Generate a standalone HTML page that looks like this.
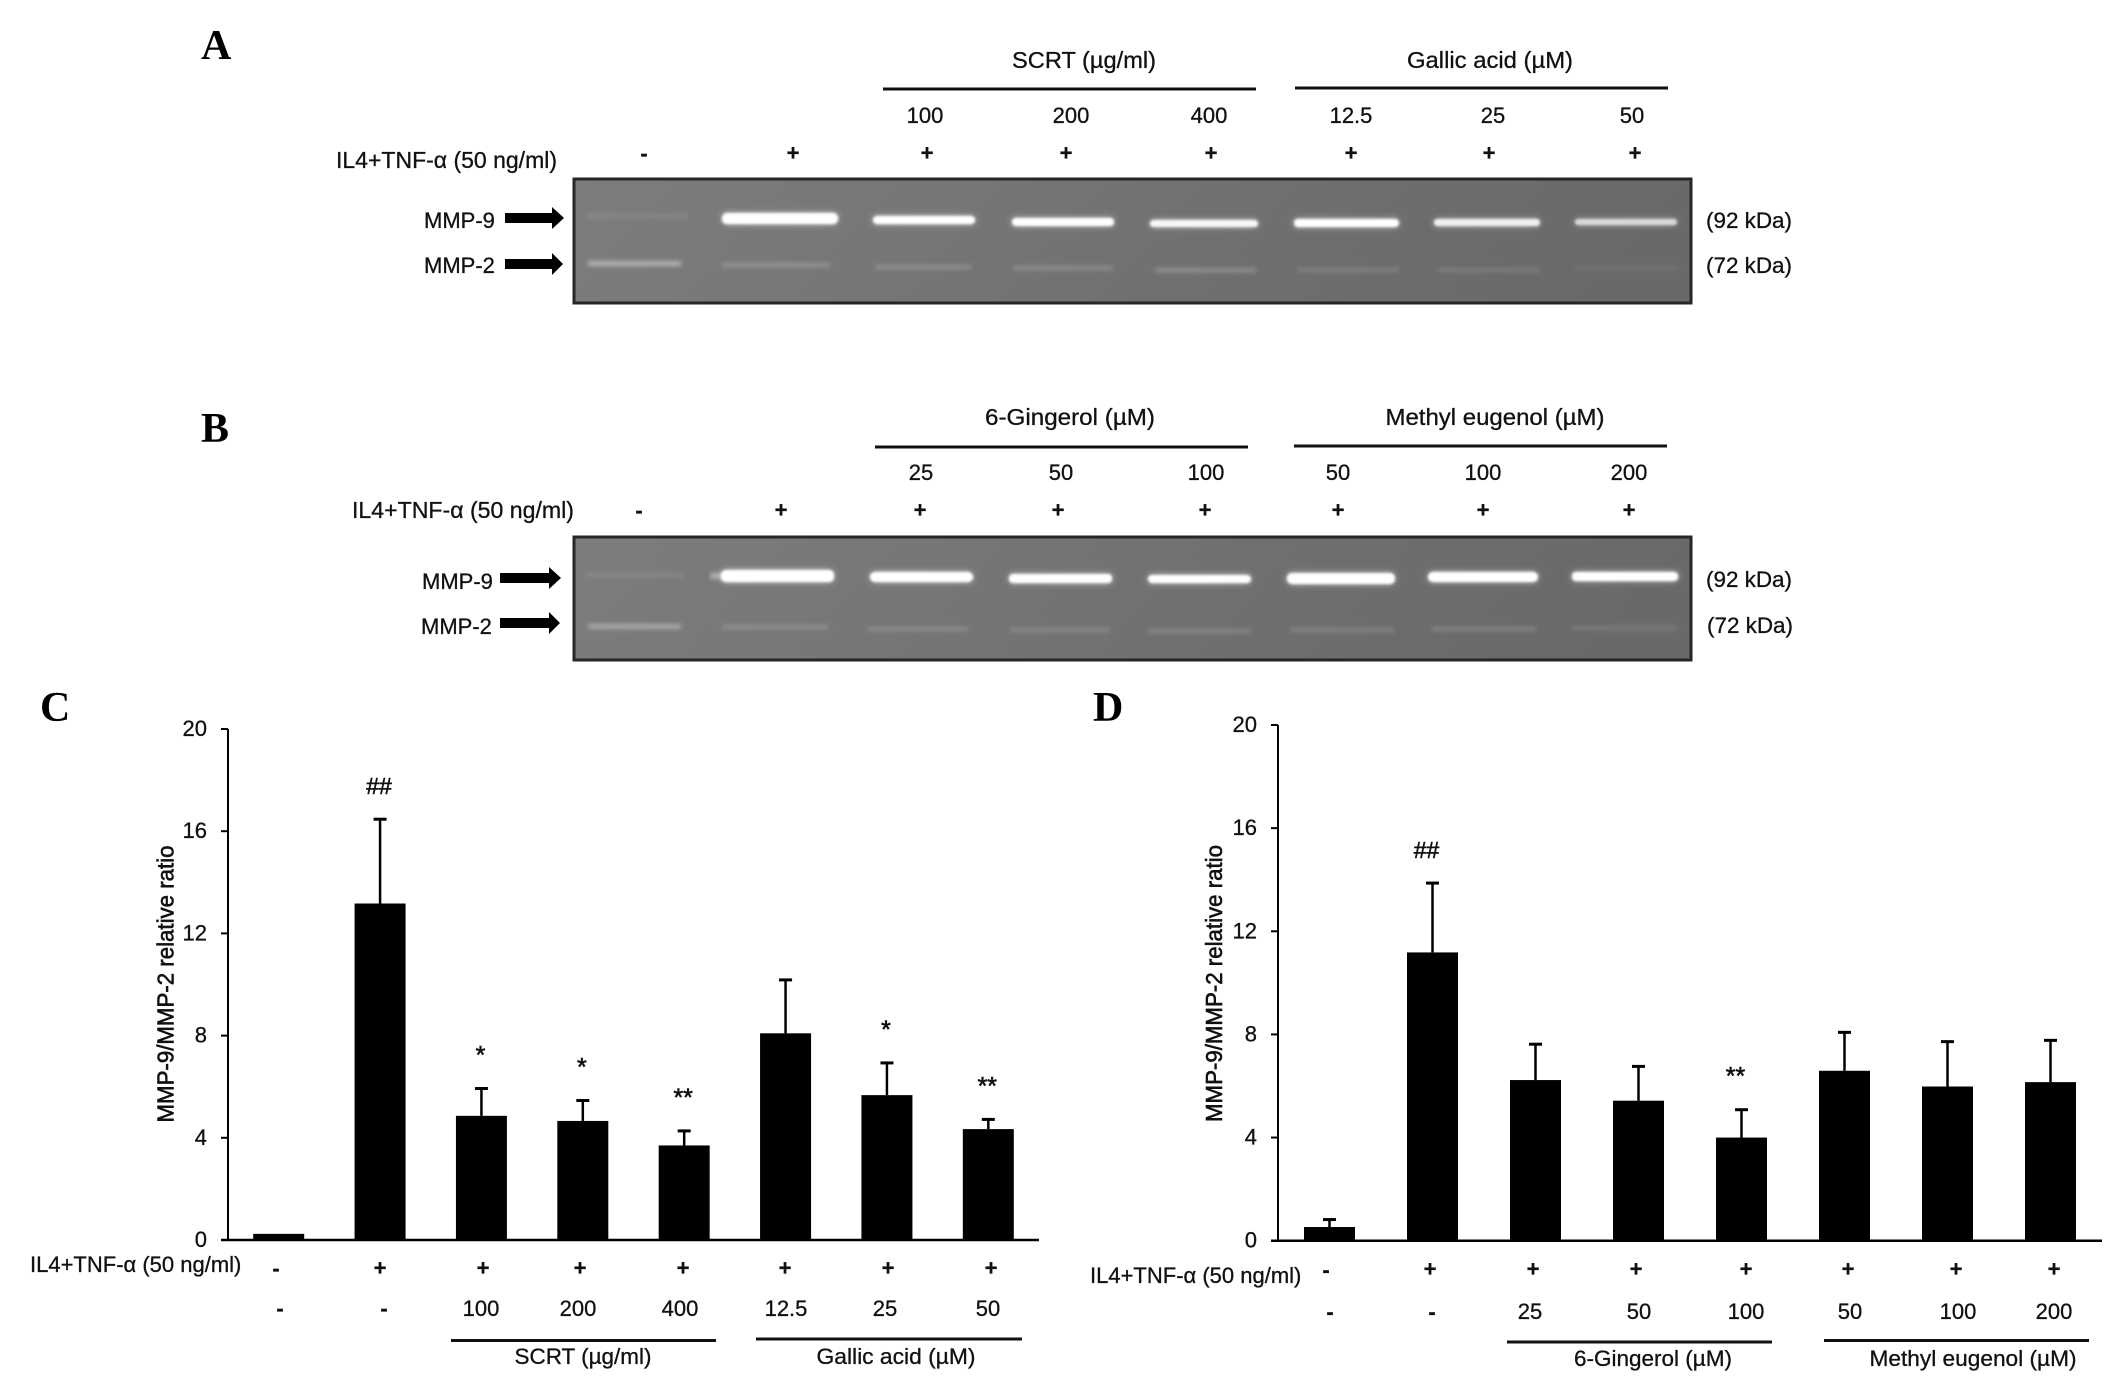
<!DOCTYPE html>
<html lang="en">
<head>
<meta charset="utf-8">
<title>MMP-9/MMP-2 zymography and ratio charts</title>
<style>
html,body{margin:0;padding:0;background:#fff;}
svg{display:block;}
text{font-family:"Liberation Sans",sans-serif;font-size:22px;fill:#111;stroke:#111;stroke-width:0.3;}
.m{text-anchor:middle;}
.b{font-weight:bold;}
.letter{font-family:"Liberation Serif",serif;font-weight:bold;font-size:42px;fill:#000;stroke:none;}
.gel-border{fill:none;stroke:#262626;stroke-width:3;}
.rule{stroke:#111;stroke-width:3;}
.arrow{fill:#000;}
</style>
</head>
<body>
<svg id="figure" xmlns="http://www.w3.org/2000/svg" width="2126" height="1382" viewBox="0 0 2126 1382">
<defs>
<linearGradient id="gelFill" x1="0" y1="0" x2="1" y2="0.1">
<stop offset="0" stop-color="#7d7d7d"/><stop offset="0.35" stop-color="#767676"/><stop offset="0.7" stop-color="#6e6e6e"/><stop offset="1" stop-color="#696969"/>
</linearGradient>
<filter id="bandGlow" x="-10%" y="-150%" width="120%" height="400%">
<feGaussianBlur in="SourceGraphic" stdDeviation="3.5" result="wide"/>
<feComponentTransfer in="wide" result="dim"><feFuncA type="linear" slope="0.6"/></feComponentTransfer>
<feGaussianBlur in="SourceGraphic" stdDeviation="1.3" result="tight"/>
<feMerge><feMergeNode in="dim"/><feMergeNode in="tight"/></feMerge>
</filter>
<filter id="bandSoft" x="-10%" y="-200%" width="120%" height="500%">
<feGaussianBlur stdDeviation="2.2"/>
</filter>
</defs>

<!-- Panel A -->
<g>
<text class="letter" x="201" y="59">A</text>
<text class="m" x="1084" y="68" textLength="144" lengthAdjust="spacingAndGlyphs" style="font-size:23px">SCRT (µg/ml)</text>
<text class="m" x="1490" y="68" textLength="166" lengthAdjust="spacingAndGlyphs" style="font-size:23px">Gallic acid (µM)</text>
<line class="rule" x1="883" y1="89" x2="1256" y2="89"/>
<line class="rule" x1="1295" y1="88" x2="1668" y2="88"/>
<g>
<text class="m" x="925" y="123">100</text>
<text class="m" x="1071" y="123">200</text>
<text class="m" x="1209" y="123">400</text>
<text class="m" x="1351" y="123">12.5</text>
<text class="m" x="1493" y="123">25</text>
<text class="m" x="1632" y="123">50</text>
</g>
<text x="336" y="168" textLength="221" lengthAdjust="spacingAndGlyphs" style="font-size:23px">IL4+TNF-α (50 ng/ml)</text>
<g>
<text class="m b" x="644" y="161">-</text>
<text class="m b" x="793" y="160.5">+</text>
<text class="m b" x="927" y="160.5">+</text>
<text class="m b" x="1066" y="160.5">+</text>
<text class="m b" x="1211" y="160.5">+</text>
<text class="m b" x="1351" y="160.5">+</text>
<text class="m b" x="1489" y="160.5">+</text>
<text class="m b" x="1635" y="160.5">+</text>
</g>
<rect x="574" y="179" width="1117" height="124" fill="url(#gelFill)"/>
<g fill="#fff">
<rect x="586" y="214" width="102" height="4" opacity="0.1" filter="url(#bandSoft)"/>
<rect x="722" y="213" width="116" height="11" rx="5" filter="url(#bandGlow)"/>
<rect x="873" y="216" width="102" height="8" rx="4" filter="url(#bandGlow)"/>
<rect x="1012" y="218" width="102" height="8" rx="4" filter="url(#bandGlow)"/>
<rect x="1150" y="220" width="108" height="7" rx="3.5" opacity="0.95" filter="url(#bandGlow)"/>
<rect x="1294" y="219" width="105" height="8" rx="4" filter="url(#bandGlow)"/>
<rect x="1434" y="219" width="106" height="7" rx="3.5" opacity="0.9" filter="url(#bandGlow)"/>
<rect x="1575" y="219" width="102" height="6" rx="3" opacity="0.75" filter="url(#bandGlow)"/>
</g>
<g fill="#fff" filter="url(#bandSoft)">
<rect x="588" y="261" width="93" height="5" opacity="0.42"/>
<rect x="722" y="263" width="108" height="4" opacity="0.22"/>
<rect x="875" y="265" width="96" height="4" opacity="0.2"/>
<rect x="1013" y="266" width="100" height="4" opacity="0.2"/>
<rect x="1155" y="268" width="101" height="4" opacity="0.24"/>
<rect x="1297" y="268" width="102" height="4" opacity="0.14"/>
<rect x="1438" y="268" width="102" height="4" opacity="0.13"/>
<rect x="1575" y="266" width="102" height="4" opacity="0.08"/>
</g>
<rect class="gel-border" x="574" y="179" width="1117" height="124"/>
<text x="424" y="228">MMP-9</text>
<text x="424" y="273">MMP-2</text>
<polygon class="arrow" points="505,213 552,213 552,207 564,218 552,229 552,223 505,223"/>
<polygon class="arrow" points="505,259 552,259 552,253 563,264 552,275 552,269 505,269"/>
<text x="1706" y="228" textLength="86" lengthAdjust="spacingAndGlyphs">(92 kDa)</text>
<text x="1706" y="273" textLength="86" lengthAdjust="spacingAndGlyphs">(72 kDa)</text>
</g>

<!-- Panel B -->
<g>
<text class="letter" x="201" y="442">B</text>
<text class="m" x="1070" y="425" textLength="170" lengthAdjust="spacingAndGlyphs" style="font-size:23px">6-Gingerol (µM)</text>
<text class="m" x="1495" y="425" textLength="219" lengthAdjust="spacingAndGlyphs" style="font-size:23px">Methyl eugenol (µM)</text>
<line class="rule" x1="875" y1="447" x2="1248" y2="447"/>
<line class="rule" x1="1294" y1="446" x2="1667" y2="446"/>
<g>
<text class="m" x="921" y="480">25</text>
<text class="m" x="1061" y="480">50</text>
<text class="m" x="1206" y="480">100</text>
<text class="m" x="1338" y="480">50</text>
<text class="m" x="1483" y="480">100</text>
<text class="m" x="1629" y="480">200</text>
</g>
<text x="352" y="518" textLength="222" lengthAdjust="spacingAndGlyphs" style="font-size:23px">IL4+TNF-α (50 ng/ml)</text>
<g>
<text class="m b" x="639" y="518">-</text>
<text class="m b" x="781" y="517.5">+</text>
<text class="m b" x="920" y="517.5">+</text>
<text class="m b" x="1058" y="517.5">+</text>
<text class="m b" x="1205" y="517.5">+</text>
<text class="m b" x="1338" y="517.5">+</text>
<text class="m b" x="1483" y="517.5">+</text>
<text class="m b" x="1629" y="517.5">+</text>
</g>
<rect x="574" y="537" width="1117" height="123" fill="url(#gelFill)"/>
<g fill="#fff">
<rect x="586" y="573" width="99" height="4" opacity="0.1" filter="url(#bandSoft)"/>
<rect x="710" y="573" width="14" height="6" opacity="0.4" filter="url(#bandSoft)"/>
<rect x="721" y="570" width="113" height="12" rx="5" filter="url(#bandGlow)"/>
<rect x="870" y="572" width="103" height="10" rx="5" filter="url(#bandGlow)"/>
<rect x="1009" y="574" width="103" height="9" rx="4" filter="url(#bandGlow)"/>
<rect x="1148" y="575" width="103" height="8" rx="4" filter="url(#bandGlow)"/>
<rect x="1287" y="573" width="108" height="11" rx="5" filter="url(#bandGlow)"/>
<rect x="1428" y="572" width="110" height="10" rx="5" filter="url(#bandGlow)"/>
<rect x="1572" y="572" width="106" height="9" rx="4" filter="url(#bandGlow)"/>
</g>
<g fill="#fff" filter="url(#bandSoft)">
<rect x="588" y="624" width="93" height="5" opacity="0.34"/>
<rect x="722" y="625" width="106" height="4" opacity="0.18"/>
<rect x="868" y="627" width="100" height="4" opacity="0.17"/>
<rect x="1010" y="628" width="100" height="4" opacity="0.17"/>
<rect x="1148" y="629" width="103" height="4" opacity="0.17"/>
<rect x="1290" y="628" width="104" height="4" opacity="0.17"/>
<rect x="1432" y="627" width="104" height="4" opacity="0.17"/>
<rect x="1571" y="626" width="106" height="4" opacity="0.12"/>
</g>
<rect class="gel-border" x="574" y="537" width="1117" height="123"/>
<text x="422" y="589">MMP-9</text>
<text x="421" y="634">MMP-2</text>
<polygon class="arrow" points="500,573 549,573 549,567 561,578 549,589 549,583 500,583"/>
<polygon class="arrow" points="500,618 549,618 549,612 560,623 549,634 549,628 500,628"/>
<text x="1706" y="587" textLength="86" lengthAdjust="spacingAndGlyphs">(92 kDa)</text>
<text x="1707" y="633" textLength="86" lengthAdjust="spacingAndGlyphs">(72 kDa)</text>
</g>

<!-- Panel C static rows -->
<g id="panelC">
<text class="letter" x="40" y="721">C</text>
<text x="30" y="1272">IL4+TNF-α (50 ng/ml)</text>
<g>
<text class="m b" x="276" y="1276">-</text>
<text class="m b" x="380" y="1275.5">+</text>
<text class="m b" x="483" y="1275.5">+</text>
<text class="m b" x="580" y="1275.5">+</text>
<text class="m b" x="683" y="1275.5">+</text>
<text class="m b" x="785" y="1275.5">+</text>
<text class="m b" x="888" y="1275.5">+</text>
<text class="m b" x="991" y="1275.5">+</text>
</g>
<g>
<text class="m b" x="280" y="1316">-</text>
<text class="m b" x="384" y="1316">-</text>
<text class="m" x="481" y="1316">100</text>
<text class="m" x="578" y="1316">200</text>
<text class="m" x="680" y="1316">400</text>
<text class="m" x="786" y="1316">12.5</text>
<text class="m" x="885" y="1316">25</text>
<text class="m" x="988" y="1316">50</text>
</g>
<line class="rule" x1="451" y1="1340.5" x2="716" y2="1340.5"/>
<line class="rule" x1="756" y1="1339" x2="1022" y2="1339"/>
<text class="m" x="583" y="1364" textLength="137" lengthAdjust="spacingAndGlyphs">SCRT (µg/ml)</text>
<text class="m" x="896" y="1364" textLength="159" lengthAdjust="spacingAndGlyphs">Gallic acid (µM)</text>
</g>

<!-- Panel D static rows -->
<g id="panelD">
<text class="letter" x="1093" y="721">D</text>
<text x="1090" y="1283">IL4+TNF-α (50 ng/ml)</text>
<g>
<text class="m b" x="1326" y="1277.5">-</text>
<text class="m b" x="1430" y="1276.5">+</text>
<text class="m b" x="1533" y="1276.5">+</text>
<text class="m b" x="1636" y="1276.5">+</text>
<text class="m b" x="1746" y="1276.5">+</text>
<text class="m b" x="1848" y="1276.5">+</text>
<text class="m b" x="1956" y="1276.5">+</text>
<text class="m b" x="2054" y="1276.5">+</text>
</g>
<g>
<text class="m b" x="1330" y="1319.5">-</text>
<text class="m b" x="1432" y="1319.5">-</text>
<text class="m" x="1530" y="1319">25</text>
<text class="m" x="1639" y="1319">50</text>
<text class="m" x="1746" y="1319">100</text>
<text class="m" x="1850" y="1319">50</text>
<text class="m" x="1958" y="1319">100</text>
<text class="m" x="2054" y="1319">200</text>
</g>
<line class="rule" x1="1507" y1="1342" x2="1772" y2="1342"/>
<line class="rule" x1="1824" y1="1340.5" x2="2089" y2="1340.5"/>
<text class="m" x="1653" y="1366" textLength="158" lengthAdjust="spacingAndGlyphs">6-Gingerol (µM)</text>
<text class="m" x="1973" y="1366" textLength="207" lengthAdjust="spacingAndGlyphs">Methyl eugenol (µM)</text>
</g>
</svg>

<script>
// Chart data
const yTicks = [0, 4, 8, 12, 16, 20];
const categoriesC = ['control', 'il4-tnf', 'scrt-100', 'scrt-200', 'scrt-400', 'gallic-12-5', 'gallic-25', 'gallic-50'];
const valuesC = [0.24, 13.17, 4.86, 4.66, 3.70, 8.09, 5.67, 4.34];
const errorsC = [0, 3.30, 1.07, 0.80, 0.57, 2.09, 1.26, 0.38];
const marksC = ['', '##', '*', '*', '**', '', '*', '**'];
const categoriesD = ['control', 'il4-tnf', 'gingerol-25', 'gingerol-50', 'gingerol-100', 'eugenol-50', 'eugenol-100', 'eugenol-200'];
const valuesD = [0.53, 11.18, 6.23, 5.43, 4.00, 6.59, 5.98, 6.15];
const errorsD = [0.29, 2.69, 1.39, 1.33, 1.08, 1.49, 1.74, 1.62];
const marksD = ['', '##', '', '', '**', '', '', ''];

const NS = 'http://www.w3.org/2000/svg';

function drawChart(parent, frame, categories, values, errors, marks) {
  const yMax = yTicks[yTicks.length - 1];
  const yScale = function (v) { return frame.bottom - (v / yMax) * (frame.bottom - frame.top); };
  const band = (frame.right - frame.left) / categories.length;
  const xScale = function (i) { return frame.left + band * (i + 0.5); };

  const make = function (tag, attrs, text) {
    const el = document.createElementNS(NS, tag);
    Object.keys(attrs).forEach(function (k) { el.setAttribute(k, attrs[k]); });
    if (text !== undefined) el.textContent = text;
    parent.appendChild(el);
    return el;
  };

  categories.forEach(function (cat, i) {
    const cx = xScale(i);
    const top = yScale(values[i]);
    const bar = make('rect', { x: cx - 25.5, y: top, width: 51, height: frame.bottom - top, fill: '#000' });
    
    
    if (errors[i] > 0) {
      const errTop = yScale(values[i] + errors[i]);
      const stem = make('line', { x1: cx, x2: cx, y1: errTop, y2: top, stroke: '#000', 'stroke-width': 2.5 });
      
      
      const cap = make('line', { x1: cx - 6.5, x2: cx + 6.5, y1: errTop, y2: errTop, stroke: '#000', 'stroke-width': 3 });
      
      
    }
    if (marks[i]) {
      const isHash = marks[i] === '##';
      const base = yScale(values[i] + errors[i]) - (isHash ? 25 : 25);
      const mark = make('text', { x: cx + frame.markDx, y: base, 'text-anchor': 'middle', style: 'font-size:' + (isHash ? 23 : 25) + 'px;stroke-width:0.6' }, marks[i]);
      
      
    }
  });

  const yAxis = make('line', { x1: frame.left, x2: frame.left, y1: frame.top, y2: frame.bottom, stroke: '#000', 'stroke-width': 2 });
  
  
  const xAxis = make('line', { x1: frame.left - 7, x2: frame.right, y1: frame.bottom, y2: frame.bottom, stroke: '#000', 'stroke-width': 2.5 });
  
  

  yTicks.forEach(function (t) {
    const y = yScale(t);
    const tick = make('line', { x1: frame.left - 7, x2: frame.left, y1: y, y2: y, stroke: '#000', 'stroke-width': 2 });
    
    
    const label = make('text', { x: frame.left - 21, y: y + 7, 'text-anchor': 'end' }, String(t));
    
    
  });

  const title = make('text', {
    x: 0, y: 0, 'text-anchor': 'middle',
    textLength: 277, lengthAdjust: 'spacingAndGlyphs',
    style: 'font-size:23px;stroke-width:0.6',
    transform: 'translate(' + frame.titleX + ' ' + frame.titleY + ') rotate(-90)'
  }, 'MMP-9/MMP-2 relative ratio');
  
  
}

drawChart(document.getElementById('panelC'),
  { left: 228, right: 1039, top: 729, bottom: 1240, titleX: 173.5, titleY: 984, markDx: -1 },
  categoriesC, valuesC, errorsC, marksC);
drawChart(document.getElementById('panelD'),
  { left: 1278, right: 2102, top: 725, bottom: 1240.7, titleX: 1222, titleY: 983.5, markDx: -6 },
  categoriesD, valuesD, errorsD, marksD);
</script>
</body>
</html>
